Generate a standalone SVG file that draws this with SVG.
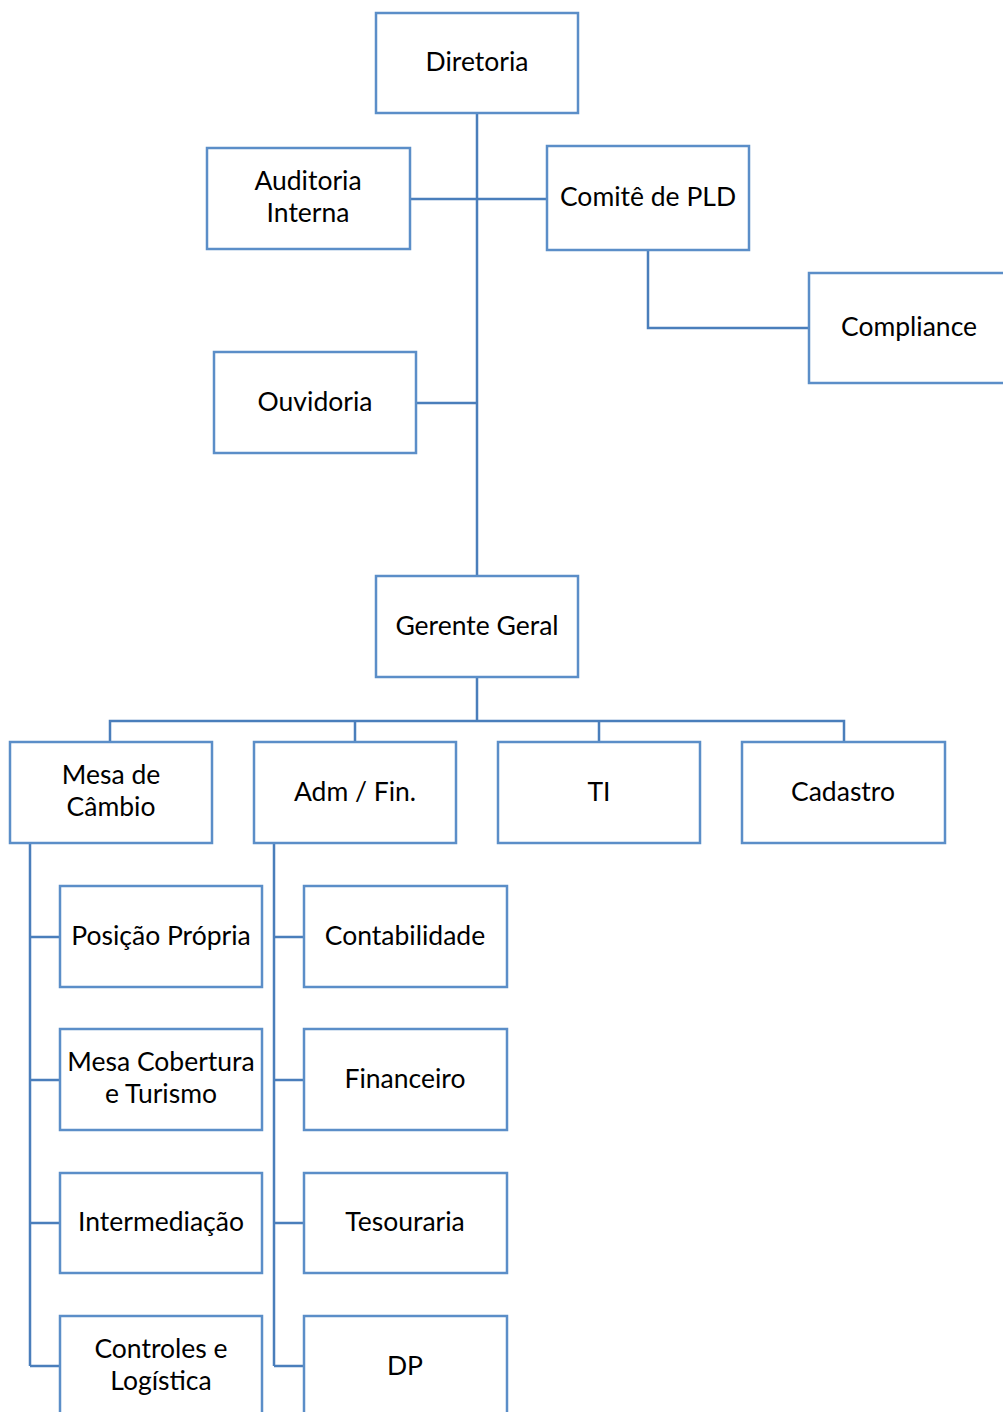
<svg xmlns="http://www.w3.org/2000/svg" width="1003" height="1412" viewBox="0 0 1003 1412">
<style>
.b{fill:#fff;stroke:#5b8ec8;stroke-width:2.5}
.c{fill:none;stroke:#4a7ebb;stroke-width:2.5}
text{font-family:"Lato","Open Sans","Liberation Sans",sans-serif;font-size:26.5px;fill:#000;text-anchor:middle}
</style>
<rect width="1003" height="1412" fill="#fff"/>
<g id="connectors">
<path class="c" d="M477 113V576M410 199H547M416 403H477M648 250V328H809"/>
<path class="c" d="M477 677V721M110 742V721H844V742M355 721V742M599 721V742"/>
<path class="c" d="M30 843V1366M30 937H60M30 1080H60M30 1223H60M30 1366H60"/>
<path class="c" d="M274 843V1366M274 937H304M274 1080H304M274 1223H304M274 1366H304"/>
</g>
<g id="diretoria"><rect class="b" x="376" y="13" width="202" height="100"/><text x="477" y="71">Diretoria</text></g>
<g id="auditoria"><rect class="b" x="207" y="148" width="203" height="101"/><text x="308" y="190">Auditoria</text><text x="308" y="222">Interna</text></g>
<g id="comite"><rect class="b" x="547" y="146" width="202" height="104"/><text x="648" y="206">Comitê de PLD</text></g>
<g id="compliance"><rect class="b" x="809" y="273" width="210" height="110"/><text x="909" y="336">Compliance</text></g>
<g id="ouvidoria"><rect class="b" x="214" y="352" width="202" height="101"/><text x="315" y="411">Ouvidoria</text></g>
<g id="gerente"><rect class="b" x="376" y="576" width="202" height="101"/><text x="477" y="635">Gerente Geral</text></g>
<g id="mesa"><rect class="b" x="10" y="742" width="202" height="101"/><text x="111" y="784">Mesa de</text><text x="111" y="816">Câmbio</text></g>
<g id="adm"><rect class="b" x="254" y="742" width="202" height="101"/><text x="355" y="801">Adm / Fin.</text></g>
<g id="ti"><rect class="b" x="498" y="742" width="202" height="101"/><text x="599" y="801">TI</text></g>
<g id="cadastro"><rect class="b" x="742" y="742" width="203" height="101"/><text x="843" y="801">Cadastro</text></g>
<g id="posicao"><rect class="b" x="60" y="886" width="202" height="101"/><text x="161" y="945">Posição Própria</text></g>
<g id="cobertura"><rect class="b" x="60" y="1029" width="202" height="101"/><text x="161" y="1071">Mesa Cobertura</text><text x="161" y="1103">e Turismo</text></g>
<g id="intermediacao"><rect class="b" x="60" y="1173" width="202" height="100"/><text x="161" y="1231">Intermediação</text></g>
<g id="controles"><rect class="b" x="60" y="1316" width="202" height="110"/><text x="161" y="1358">Controles e</text><text x="161" y="1390">Logística</text></g>
<g id="contabilidade"><rect class="b" x="304" y="886" width="203" height="101"/><text x="405" y="945">Contabilidade</text></g>
<g id="financeiro"><rect class="b" x="304" y="1029" width="203" height="101"/><text x="405" y="1088">Financeiro</text></g>
<g id="tesouraria"><rect class="b" x="304" y="1173" width="203" height="100"/><text x="405" y="1231">Tesouraria</text></g>
<g id="dp"><rect class="b" x="304" y="1316" width="203" height="110"/><text x="405" y="1375">DP</text></g>
</svg>
